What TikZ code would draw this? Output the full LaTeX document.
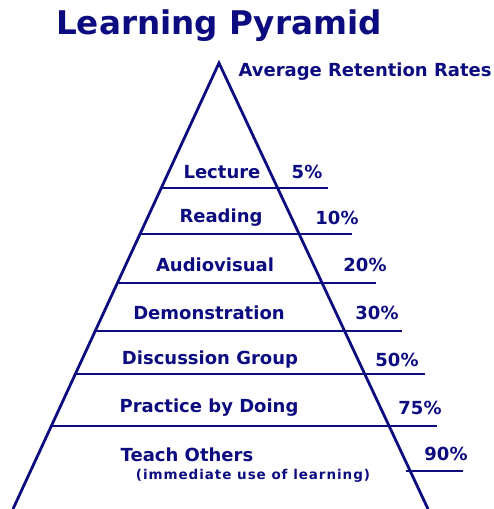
\documentclass[tikz,border=0pt]{standalone}
\usepackage{fontspec}
\setmainfont{DejaVu Sans}
\newfontfamily\widefont[LetterSpace=7]{DejaVu Sans}
\usepackage{tikz}
\usetikzlibrary{positioning}
\usepackage{xcolor}
\definecolor{pyrblue}{RGB}{12,12,128}

\begin{document}
\begin{tikzpicture}[x=1pt, y=-1pt,
    lvltext/.style={font=\bfseries\fontsize{18}{18}\selectfont, text=pyrblue},
    lvlline/.style={draw=pyrblue, line width=2.2pt}]

  \useasboundingbox (0,0) rectangle (493,509);

  % Heading
  \node[font=\bfseries\fontsize{32.6}{32.6}\selectfont, text=pyrblue] (title) at (219,26) {Learning Pyramid};
  \node[lvltext, anchor=west] (rates) at (235,72) {Average Retention Rates};

  % Pyramid outline
  \coordinate (apex) at (219,63);
  \coordinate (baseL) at (13,509);
  \coordinate (baseR) at (428,509);
  \draw[pyrblue, line width=2.8pt] (baseL) -- (apex) -- (baseR);

  % Levels: divider line, method and retention rate
  \foreach \i/\y/\xl/\xr/\lbl/\lx/\ly/\pct/\px in {
    1/188/161/328/Lecture/222/172/5\%/307,
    2/234/140/352/Reading/221/218/10\%/337,
    3/283/117/376/Audiovisual/215/265/20\%/365,
    4/331/95/402/Demonstration/209/313/30\%/377,
    5/374/75/425/Discussion Group/210/360/50\%/397,
    6/426/51/437/Practice by Doing/209/408/75\%/420
  }{
    \draw[lvlline] (\xl,\y) -- (\xr,\y);
    \node[lvltext] (lvl-\i) at (\lx,\ly) {\lbl};
    \node[lvltext] (pct-\i) at (\px,\ly) {\pct};
  }

  % Bottom level
  \node[lvltext] (lvl-7) at (187,455) {Teach Others};
  \node[font=\widefont\bfseries\fontsize{13.5}{13.5}\selectfont, text=pyrblue] (lvl-sub) at (253,476) {(immediate use of learning)};
  \node[lvltext] (pct-7) at (446,454) {90\%};
  \draw[lvlline] (406,471) -- (463,471);

\end{tikzpicture}
\end{document}
